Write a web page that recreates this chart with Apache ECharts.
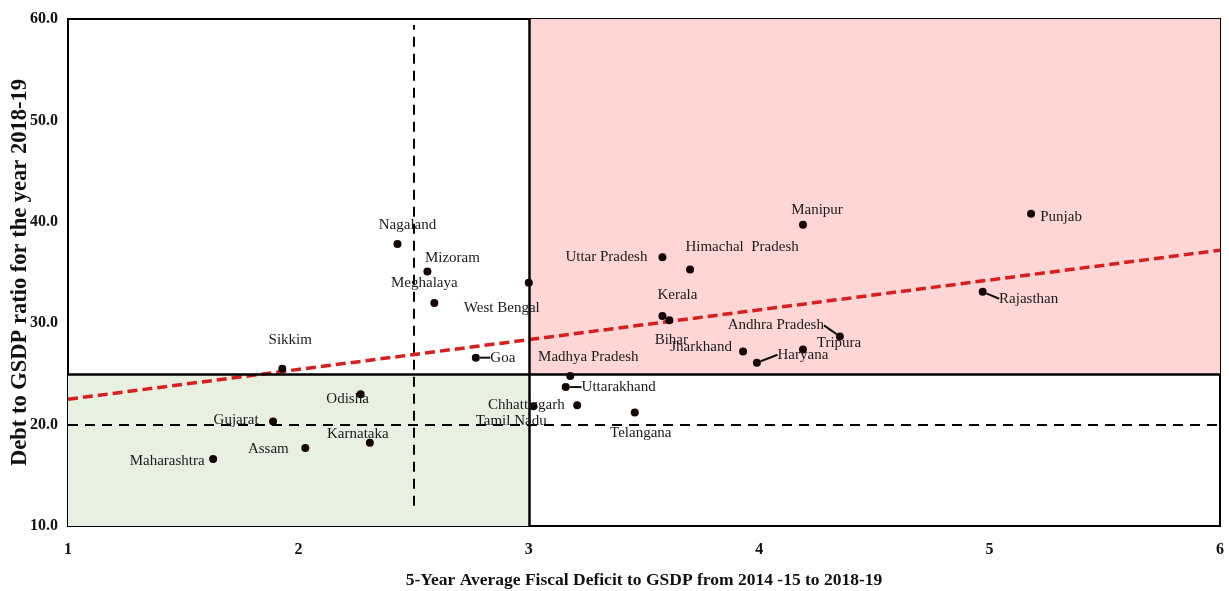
<!DOCTYPE html>
<html>
<head>
<meta charset="utf-8">
<script src="https://cdn.jsdelivr.net/npm/echarts@6/dist/echarts.min.js"></script>
<style>
html,body{margin:0;padding:0;background:#fff;}
#chart{width:1229px;height:591px;}
</style>
</head>
<body>
<div id="chart"></div>
<script>
// ---- DATA ----
const states = ['Maharashtra','Gujarat','Assam','Karnataka','Odisha','Sikkim','Nagaland','Mizoram','Meghalaya','West Bengal','Goa','Madhya Pradesh','Uttarakhand','Chhattisgarh','Tamil Nadu','Telangana','Uttar Pradesh','Himachal  Pradesh','Kerala','Bihar','Jharkhand','Haryana','Tripura','Andhra Pradesh','Manipur','Punjab','Rajasthan'];
const fiscalDeficit = [1.63,1.89,2.03,2.31,2.27,1.93,2.43,2.56,2.59,3.00,2.77,3.18,3.16,3.02,3.21,3.46,3.58,3.70,3.58,3.61,3.93,3.99,4.19,4.35,4.19,5.18,4.97];
const debtRatio     = [16.6,20.3,17.7,18.2,23.0,25.5,37.8,35.1,32.0,34.0,26.6,24.8,23.7,21.8,21.9,21.2,36.5,35.3,30.7,30.3,27.2,26.1,27.4,28.7,39.7,40.8,33.1];
const trendX = [1, 6];
const trendY = [22.5, 37.2];
const xTicks = [1,2,3,4,5,6];
const yTicks = [10,20,30,40,50,60];
const fiscalThreshold = 3;
const debtThreshold = 25;
const avgDeficit = 2.5;
const avgDebt = 20;
const avgDeficitSpan = [12, 59.4];

// ---- LABEL PLACEMENT (style only) ----
const labelOffset = {
  'Maharashtra':[-46,2], 'Gujarat':[-37,-1], 'Assam':[-37,1], 'Karnataka':[-12,-9],
  'Odisha':[-13,5], 'Sikkim':[8,-29], 'Nagaland':[10,-19], 'Mizoram':[25,-13],
  'Meghalaya':[-10,-20], 'West Bengal':[-27,25], 'Goa':[27,0], 'Madhya Pradesh':[18,-19],
  'Uttarakhand':[53,0], 'Chhattisgarh':[-7,-1], 'Tamil Nadu':[-66,16], 'Telangana':[6,21],
  'Uttar Pradesh':[-56,0], 'Himachal  Pradesh':[52,-22], 'Kerala':[15,-21], 'Bihar':[2,20],
  'Jharkhand':[-42,-5], 'Haryana':[46,-8], 'Tripura':[36,-7], 'Andhra Pradesh':[-64,-11],
  'Manipur':[14,-15], 'Punjab':[30,3], 'Rajasthan':[46,7]
};
const leaderNames = ['Goa','Uttarakhand','Haryana','Andhra Pradesh','Rajasthan'];

const FONT = 'Liberation Serif';
const points = states.map((s,i)=>({
  name: s,
  value: [fiscalDeficit[i], debtRatio[i]],
  labelLine: { show: leaderNames.indexOf(s) >= 0 }
}));

const chart = echarts.init(document.getElementById('chart'));
chart.setOption({
  animation: false,
  backgroundColor: '#fff',
  grid: { left: 68, right: 9, top: 19, bottom: 65, outerBoundsMode: 'none', containLabel: false,
    show: true, borderColor: '#000', borderWidth: 2, backgroundColor: 'transparent' },
  xAxis: {
    type: 'value', min: xTicks[0], max: xTicks[xTicks.length-1], interval: 1,
    splitLine: { show: false }, axisTick: { show: false },
    axisLine: { show: true, onZero: false, lineStyle: { color: '#000', width: 2 } },
    axisLabel: { margin: 16, color: '#111', fontFamily: FONT, fontWeight: 'bold', fontSize: 16 },
    name: '5-Year Average Fiscal Deficit to GSDP from 2014 -15 to 2018-19',
    nameLocation: 'middle', nameGap: 45, nameMoveOverlap: false,
    nameTextStyle: { color: '#111', fontFamily: FONT, fontWeight: 'bold', fontSize: 17.5 }
  },
  yAxis: {
    type: 'value', min: yTicks[0], max: yTicks[yTicks.length-1], interval: 10,
    splitLine: { show: false }, axisTick: { show: false },
    axisLine: { show: true, onZero: false, lineStyle: { color: '#000', width: 2 } },
    axisLabel: { margin: 10, color: '#111', fontFamily: FONT, fontWeight: 'bold', fontSize: 16,
      formatter: v => v.toFixed(1) },
    name: 'Debt to GSDP ratio for the year 2018-19',
    nameLocation: 'middle', nameGap: 36, nameRotate: 90, nameMoveOverlap: false,
    nameTextStyle: { color: '#111', fontFamily: FONT, fontWeight: 'bold', fontSize: 22.5 }
  },
  series: [
    {
      type: 'line', data: [], z: 1, silent: true,
      markArea: {
        silent: true,
        data: [
          [{ xAxis: xTicks[0], yAxis: yTicks[0], itemStyle: { color: '#e8f0e1', opacity: 1 } }, { xAxis: fiscalThreshold, yAxis: debtThreshold }],
          [{ xAxis: fiscalThreshold, yAxis: debtThreshold, itemStyle: { color: '#ffd6d6', opacity: 1 } }, { xAxis: xTicks[xTicks.length-1], yAxis: yTicks[yTicks.length-1] }]
        ]
      },
      markLine: {
        silent: true, symbol: 'none', label: { show: false },
        data: [
          [{ coord: [fiscalThreshold, yTicks[0]], lineStyle: { color: '#000', width: 2.5, type: 'solid' } }, { coord: [fiscalThreshold, yTicks[yTicks.length-1]] }],
          [{ coord: [xTicks[0], debtThreshold], lineStyle: { color: '#000', width: 2.5, type: 'solid' } }, { coord: [xTicks[xTicks.length-1], debtThreshold] }],
          [{ coord: [avgDeficit, avgDeficitSpan[0]], lineStyle: { color: '#000', width: 2, type: [10,7] } }, { coord: [avgDeficit, avgDeficitSpan[1]] }],
          [{ coord: [xTicks[0], avgDebt], lineStyle: { color: '#000', width: 2, type: [10,7] } }, { coord: [xTicks[xTicks.length-1], avgDebt] }]
        ]
      }
    },
    {
      type: 'line', z: 3, silent: true, showSymbol: false,
      data: trendX.map((x,i)=>[x, trendY[i]]),
      lineStyle: { color: '#d61f1f', width: 3.5, type: [10,5] }
    },
    {
      type: 'scatter', z: 5, symbolSize: 8,
      itemStyle: { color: '#150505', opacity: 1 },
      data: points,
      label: { show: true, position: 'inside', formatter: '{b}', color: '#1a1a1a', fontFamily: FONT, fontSize: 15 },
      labelLayout: function (p) {
        const o = labelOffset[states[p.dataIndex]] || [0, 0];
        return { dx: o[0], dy: o[1] };
      },
      labelLine: { show: false, length2: 0, lineStyle: { color: '#111', width: 2 } }
    }
  ]
});
</script>
</body>
</html>
